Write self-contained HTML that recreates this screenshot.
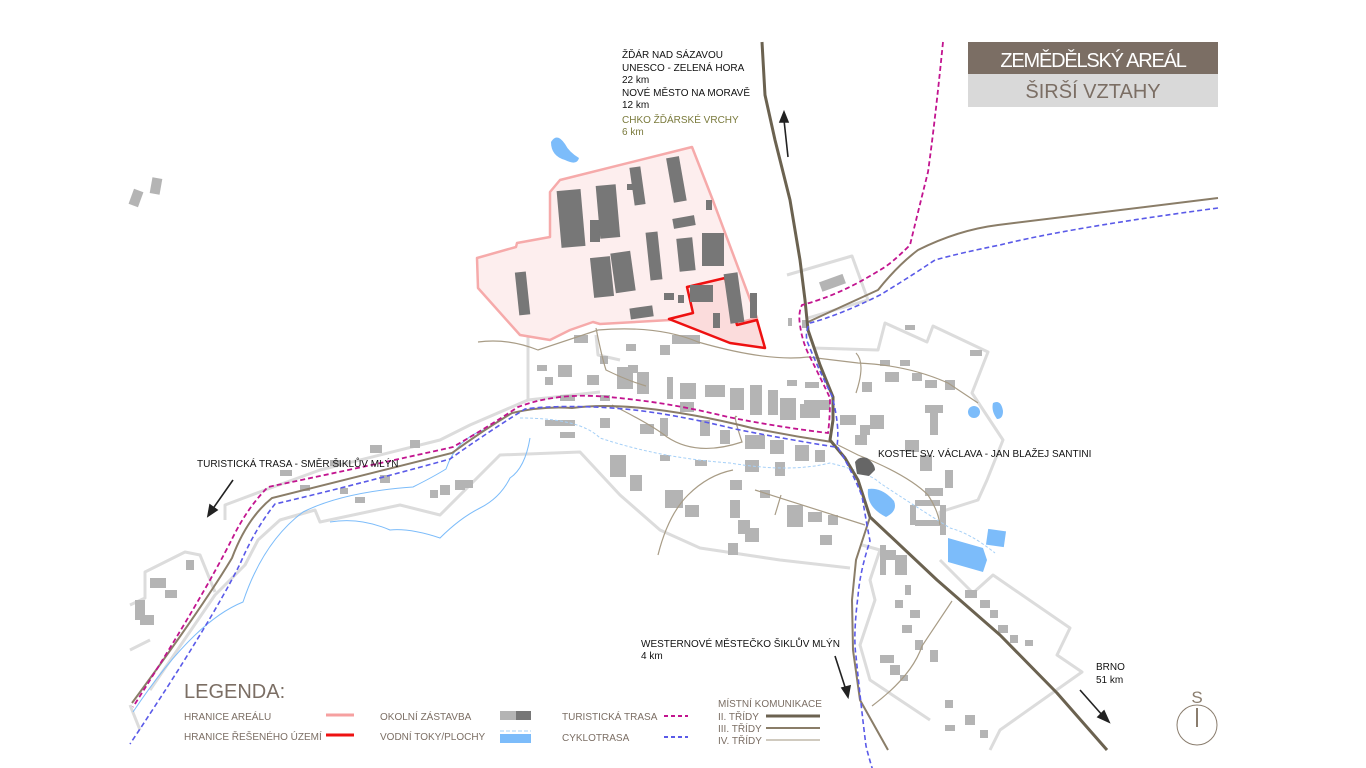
<!DOCTYPE html>
<html><head><meta charset="utf-8"><style>
html,body{margin:0;padding:0;background:#fff;}
svg{display:block}
text{font-family:"Liberation Sans",sans-serif;}
</style></head><body>
<svg width="1366" height="768" viewBox="0 0 1366 768" xmlns="http://www.w3.org/2000/svg">
<rect width="1366" height="768" fill="#fff"/>

<!-- village outlines -->
<g fill="none" stroke="#dcdcdc" stroke-width="3" stroke-linejoin="round">
<polyline points="150,690 215,595 245,565 258,540 280,520 315,510 320,522 400,505 440,515 500,455 580,452 620,495 660,530 700,548 780,560 850,568"/>
<polyline points="225,520 225,505 265,490 320,470 440,440 470,425 528,400 528,330"/>
<polyline points="130,605 145,598 145,572 185,552 200,555 215,592"/>
<polyline points="130,650 150,640"/>
<polyline points="130,705 140,730"/>
<polyline points="787,275 852,256 868,300 808,318"/>
<polyline points="813,348 878,350 885,323 927,342 933,326 988,352 972,393 1003,440 987,480 978,500 940,512 940,520"/>
<polyline points="940,560 973,593 993,575 1070,628 1057,655 1082,672 1000,730 990,750"/>
<polyline points="862,545 880,550 870,580 875,600 860,645 870,680 930,720"/>
<polyline points="596,335 598,355 620,360"/>
<polyline points="528,400 600,392"/>
</g>

<!-- buildings light -->
<g fill="#b4b4b4">
<rect x="131" y="190" width="10" height="16" transform="rotate(20 136 198)"/>
<rect x="151" y="178" width="10" height="16" transform="rotate(10 156 186)"/>
<rect x="574" y="335" width="14" height="8"/><rect x="672" y="335" width="28" height="9"/>
<rect x="626" y="344" width="10" height="7"/><rect x="660" y="345" width="10" height="10"/>
<rect x="600" y="356" width="8" height="8"/><rect x="628" y="365" width="10" height="8"/>
<rect x="537" y="365" width="10" height="6"/><rect x="545" y="377" width="8" height="8"/>
<rect x="558" y="365" width="14" height="12"/><rect x="587" y="375" width="12" height="10"/>
<rect x="617" y="367" width="16" height="22"/><rect x="637" y="372" width="12" height="22"/>
<rect x="667" y="377" width="6" height="22"/><rect x="680" y="383" width="16" height="16"/>
<rect x="705" y="385" width="20" height="12"/><rect x="730" y="388" width="14" height="22"/>
<rect x="750" y="385" width="12" height="30"/><rect x="768" y="390" width="10" height="25"/>
<rect x="780" y="398" width="16" height="22"/><rect x="800" y="404" width="20" height="14"/>
<rect x="787" y="380" width="10" height="6"/><rect x="805" y="382" width="14" height="6"/>
<rect x="804" y="400" width="26" height="10"/>
<rect x="545" y="420" width="30" height="6"/><rect x="560" y="432" width="15" height="6"/>
<rect x="680" y="402" width="14" height="10"/><rect x="600" y="418" width="10" height="10"/>
<rect x="640" y="424" width="14" height="10"/><rect x="660" y="418" width="8" height="18"/>
<rect x="700" y="420" width="10" height="16"/><rect x="720" y="430" width="10" height="14"/>
<rect x="745" y="435" width="20" height="14"/><rect x="770" y="440" width="14" height="14"/>
<rect x="795" y="445" width="14" height="16"/><rect x="815" y="450" width="10" height="12"/>
<rect x="745" y="460" width="14" height="12"/><rect x="775" y="462" width="10" height="14"/>
<rect x="610" y="455" width="16" height="22"/><rect x="630" y="475" width="12" height="16"/>
<rect x="660" y="455" width="10" height="6"/><rect x="695" y="460" width="12" height="6"/>
<rect x="665" y="490" width="18" height="18"/><rect x="685" y="505" width="14" height="12"/>
<rect x="730" y="480" width="12" height="10"/><rect x="760" y="490" width="10" height="8"/>
<rect x="787" y="505" width="16" height="22"/><rect x="808" y="512" width="14" height="10"/>
<rect x="730" y="500" width="10" height="18"/><rect x="738" y="520" width="12" height="14"/>
<rect x="828" y="515" width="10" height="10"/><rect x="820" y="535" width="12" height="10"/>
<rect x="728" y="543" width="10" height="12"/><rect x="745" y="528" width="14" height="14"/>
<rect x="880" y="360" width="10" height="6"/><rect x="900" y="360" width="10" height="6"/>
<rect x="862" y="382" width="10" height="10"/><rect x="885" y="372" width="14" height="10"/>
<rect x="905" y="325" width="10" height="5"/><rect x="970" y="350" width="12" height="6"/>
<rect x="912" y="373" width="10" height="8"/><rect x="925" y="380" width="12" height="8"/>
<rect x="945" y="380" width="10" height="10"/>
<rect x="930" y="405" width="8" height="30"/><rect x="925" y="405" width="18" height="8"/>
<rect x="840" y="415" width="16" height="10"/><rect x="860" y="425" width="10" height="10"/>
<rect x="870" y="415" width="14" height="14"/><rect x="855" y="435" width="12" height="10"/>
<rect x="905" y="440" width="14" height="12"/><rect x="920" y="455" width="12" height="16"/>
<rect x="945" y="470" width="8" height="18"/><rect x="925" y="488" width="18" height="8"/>
<rect x="915" y="500" width="25" height="6"/><rect x="910" y="505" width="6" height="20"/>
<rect x="915" y="520" width="28" height="6"/><rect x="940" y="505" width="6" height="30"/>
<rect x="880" y="550" width="16" height="10"/><rect x="880" y="545" width="6" height="30"/>
<rect x="895" y="555" width="12" height="20"/><rect x="905" y="585" width="6" height="10"/>
<rect x="965" y="590" width="12" height="8"/><rect x="980" y="600" width="10" height="8"/>
<rect x="990" y="610" width="8" height="8"/><rect x="998" y="625" width="10" height="8"/>
<rect x="1010" y="635" width="8" height="8"/><rect x="1025" y="640" width="8" height="6"/>
<rect x="895" y="600" width="8" height="8"/><rect x="910" y="610" width="10" height="8"/>
<rect x="902" y="625" width="10" height="8"/><rect x="915" y="640" width="8" height="10"/>
<rect x="880" y="655" width="14" height="8"/><rect x="890" y="665" width="10" height="10"/>
<rect x="900" y="675" width="8" height="6"/><rect x="930" y="650" width="8" height="12"/>
<rect x="945" y="700" width="8" height="8"/><rect x="965" y="715" width="10" height="10"/>
<rect x="980" y="730" width="8" height="8"/><rect x="945" y="725" width="10" height="6"/>
<rect x="410" y="440" width="10" height="8"/><rect x="370" y="445" width="12" height="8"/>
<rect x="330" y="460" width="10" height="6"/><rect x="280" y="470" width="12" height="6"/>
<rect x="440" y="485" width="10" height="10"/><rect x="430" y="490" width="8" height="8"/>
<rect x="455" y="480" width="10" height="10"/><rect x="465" y="480" width="8" height="8"/>
<rect x="380" y="475" width="10" height="8"/><rect x="340" y="488" width="8" height="6"/>
<rect x="355" y="497" width="10" height="6"/><rect x="300" y="485" width="10" height="6"/>
<rect x="150" y="578" width="16" height="10"/><rect x="165" y="590" width="12" height="8"/>
<rect x="135" y="600" width="10" height="20"/><rect x="140" y="615" width="14" height="10"/>
<rect x="186" y="560" width="8" height="10"/>
<rect x="560" y="395" width="15" height="6"/><rect x="600" y="395" width="10" height="6"/>
</g>

<!-- areál -->
<polygon points="477,258 516,247 517,243 550,237 550,192 560,180 692,147 712,198 757,318 738,323 705,318 670,320 600,324 593,322 570,330 550,340 520,335 478,288" fill="#fdeeee" stroke="#f6aaaa" stroke-width="2.5" stroke-linejoin="round"/>
<polygon points="687,287 725,278 737,325 757,320 765,348 730,343 669,319 693,313" fill="#fbdcdc" stroke="#ee1111" stroke-width="2.5" stroke-linejoin="round"/>
<g fill="#777">
<rect x="559" y="190" width="24" height="57" transform="rotate(-5 571 218)"/>
<rect x="590" y="220" width="10" height="22"/>
<rect x="598" y="185" width="20" height="53" transform="rotate(-5 608 212)"/>
<rect x="632" y="167" width="11" height="38" transform="rotate(-8 637 186)"/>
<rect x="627" y="184" width="6" height="6"/>
<rect x="670" y="157" width="13" height="45" transform="rotate(-10 676 180)"/>
<rect x="706" y="200" width="6" height="10"/>
<rect x="673" y="217" width="22" height="10" transform="rotate(-10 684 222)"/>
<rect x="592" y="257" width="20" height="40" transform="rotate(-6 602 277)"/>
<rect x="613" y="252" width="20" height="40" transform="rotate(-8 623 272)"/>
<rect x="648" y="232" width="12" height="48" transform="rotate(-6 654 256)"/>
<rect x="678" y="238" width="16" height="33" transform="rotate(-6 686 255)"/>
<rect x="702" y="233" width="22" height="33"/>
<rect x="517" y="272" width="11" height="43" transform="rotate(-6 522 293)"/>
<rect x="630" y="307" width="23" height="11" transform="rotate(-8 641 312)"/>
<rect x="664" y="293" width="10" height="7"/><rect x="678" y="295" width="6" height="8"/>
<rect x="690" y="285" width="23" height="17"/>
<rect x="713" y="313" width="7" height="15"/>
<rect x="727" y="273" width="14" height="50" transform="rotate(-8 734 298)"/>
<rect x="750" y="293" width="7" height="25"/>
</g>
<rect x="820" y="278" width="25" height="10" fill="#b4b4b4" transform="rotate(-20 832 283)"/>
<rect x="802" y="320" width="6" height="8" fill="#b4b4b4"/>
<rect x="788" y="318" width="4" height="8" fill="#b4b4b4"/>

<!-- water -->
<g fill="#7cbcfa">
<path d="M551,142 q6,-10 14,2 q4,8 14,14 q-2,8 -14,2 q-14,-4 -14,-18z"/>
<path d="M868,489 q14,-2 26,12 q4,10 -8,16 q-20,-10 -18,-28z"/>
<path d="M948,538 l35,10 l4,12 l-4,12 l-35,-10z"/>
<rect x="987" y="530" width="18" height="16" transform="rotate(8 996 538)"/>
<ellipse cx="974" cy="412" rx="6" ry="6"/>
<path d="M993,403 q8,-4 10,8 q0,8 -6,8 q-6,-8 -4,-16z"/>
</g>
<g fill="none" stroke="#7cbcfa" stroke-width="1">
<path d="M133,712 q60,-90 110,-110 q20,-60 60,-90 q40,-20 110,-25 q20,-10 33,-18 q10,-30 40,-40"/>
<path d="M330,522 q30,-5 60,8 q20,-2 50,8 q20,-20 40,-30 q20,-10 30,-30 q15,-10 20,-40"/>
</g>
<g fill="none" stroke="#a6d0f7" stroke-width="1" stroke-dasharray="3,2">
<path d="M520,418 q60,0 80,20 q60,20 130,25 q60,10 100,0 q40,10 50,20 q30,20 70,45 q20,5 45,25"/>
</g>

<!-- minor roads -->
<g fill="none" stroke="#a89c86" stroke-width="1.2">
<path d="M478,342 q30,-4 60,8 q30,-10 60,-20 q60,-5 100,12 q70,20 110,15 l50,6 q50,2 90,20 q15,10 30,20"/>
<path d="M596,328 q6,30 10,42 q20,10 40,16"/>
<path d="M612,405 q40,20 55,32 q30,20 75,5 q-10,-30 -5,-25"/>
<path d="M658,555 q10,-40 30,-60 q20,-20 45,-25"/>
<path d="M755,490 l110,35"/><path d="M775,515 l6,-20"/>
<path d="M838,445 l20,10 q50,20 70,40 q10,15 12,30"/>
<path d="M856,353 q10,10 0,40"/>
<path d="M872,706 q40,-30 50,-60 q20,-30 30,-45"/>
</g>

<!-- secondary roads (III) -->
<g fill="none" stroke="#8a7d68" stroke-width="2">
<path d="M808,322 l70,-32 q20,-25 40,-40 q40,-20 80,-25 l220,-27"/>
<path d="M832,442 q-40,-6 -80,-14 q-60,-15 -110,-20 q-40,-4 -70,0 q-30,-2 -60,5 q-30,18 -60,40 q-80,20 -180,45 q-25,20 -40,60 q-30,50 -100,145"/>
<polyline points="870,517 856,560 852,600 853,650 860,700 888,750"/>
</g>
<!-- main road II -->
<polyline points="762,42 765,95 775,140 790,200 800,260 805,300 808,330 820,365 833,397 833,420 830,440 845,458 858,480 870,517 937,580 1000,635 1057,693 1107,750" fill="none" stroke="#6b6250" stroke-width="3" stroke-linejoin="round"/>

<!-- tourist trail -->
<path d="M943,42 q-8,80 -15,130 q-10,40 -18,73 q-20,20 -30,25 q-40,25 -78,35 q-4,8 -2,20 q2,15 8,28 q15,30 22,45 q0,20 -2,35 q-50,-6 -100,-16 q-60,-15 -120,-20 q-50,-5 -90,10 q-30,20 -65,40 q-80,18 -185,40 q-20,20 -35,50 q-30,60 -100,170" fill="none" stroke="#c2148f" stroke-width="1.8" stroke-dasharray="5,3"/>
<!-- cycle -->
<path d="M1218,208 q-150,20 -218,37 q-40,8 -65,15 q-30,20 -55,35 q-40,20 -70,28 q-5,8 -3,18 q10,25 25,55 q8,30 5,50 q15,25 25,50 q5,30 8,45 q-10,30 -12,55 q-5,40 -2,60 q5,50 10,90 q10,40 22,60" fill="none" stroke="#5a5ae8" stroke-width="1.6" stroke-dasharray="5,3"/>
<path d="M835,447 q-50,-8 -100,-18 q-60,-15 -110,-20 q-60,-5 -100,0 q-40,25 -75,50 q-90,25 -175,45 q-20,25 -35,60 q-30,60 -110,180" fill="none" stroke="#5a5ae8" stroke-width="1.6" stroke-dasharray="5,3"/>

<!-- church -->
<path d="M855,462 q4,-6 12,-4 q8,6 8,12 l-6,6 l-12,-2z" fill="#666"/>

<!-- arrows -->
<g stroke="#222" stroke-width="1.6" fill="#222">
<line x1="788" y1="157" x2="784" y2="120"/><polygon points="784,112 780,122 788,122"/>
<line x1="233" y1="480" x2="212" y2="510"/><polygon points="208,516 210,505 217,510"/>
<line x1="835" y1="656" x2="846" y2="690"/><polygon points="848,697 842,688 850,686"/>
<line x1="1080" y1="690" x2="1103" y2="716"/><polygon points="1109,722 1098,717 1104,711"/>
</g>

<!-- labels -->
<g font-size="10" fill="#111">
<text x="622" y="58">ŽĎÁR NAD SÁZAVOU</text>
<text x="622" y="71">UNESCO - ZELENÁ HORA</text>
<text x="622" y="83">22 km</text>
<text x="622" y="96">NOVÉ MĚSTO NA MORAVĚ</text>
<text x="622" y="108">12 km</text>
<text x="622" y="123" fill="#7a7a3c">CHKO ŽĎÁRSKÉ VRCHY</text>
<text x="622" y="135" fill="#7a7a3c">6 km</text>
<text x="197" y="467">TURISTICKÁ TRASA - SMĚR ŠIKLŮV MLÝN</text>
<text x="878" y="457">KOSTEL SV. VÁCLAVA - JAN BLAŽEJ SANTINI</text>
<text x="641" y="647">WESTERNOVÉ MĚSTEČKO ŠIKLŮV MLÝN</text>
<text x="641" y="659">4 km</text>
<text x="1096" y="670">BRNO</text>
<text x="1096" y="683">51 km</text>
</g>

<!-- title -->
<rect x="968" y="42" width="250" height="32" fill="#7b6e64"/>
<rect x="968" y="74" width="250" height="33" fill="#d9d9d9"/>
<text x="1093" y="67" font-size="20" fill="#fff" text-anchor="middle" letter-spacing="-1.2">ZEMĚDĚLSKÝ AREÁL</text>
<text x="1093" y="98" font-size="20" fill="#7b6e64" text-anchor="middle">ŠIRŠÍ VZTAHY</text>

<!-- compass -->
<circle cx="1197" cy="725" r="20" fill="none" stroke="#8a7d6e" stroke-width="1"/>
<line x1="1197" y1="708" x2="1197" y2="727" stroke="#8a7d6e" stroke-width="2"/>
<text x="1197" y="703" font-size="17" fill="#8a7d6e" text-anchor="middle">S</text>

<!-- legend -->
<text x="184" y="698" font-size="20" fill="#7b6e64">LEGENDA:</text>
<g font-size="10" fill="#7b6e64">
<text x="184" y="720">HRANICE AREÁLU</text>
<text x="184" y="740">HRANICE ŘEŠENÉHO ÚZEMÍ</text>
<text x="380" y="720">OKOLNÍ ZÁSTAVBA</text>
<text x="380" y="740">VODNÍ TOKY/PLOCHY</text>
<text x="562" y="720">TURISTICKÁ TRASA</text>
<text x="562" y="741">CYKLOTRASA</text>
<text x="718" y="707">MÍSTNÍ KOMUNIKACE</text>
<text x="718" y="720">II.  TŘÍDY</text>
<text x="718" y="732">III.  TŘÍDY</text>
<text x="718" y="744">IV.  TŘÍDY</text>
</g>
<line x1="326" y1="715" x2="354" y2="715" stroke="#f6a0a0" stroke-width="3"/>
<line x1="326" y1="735" x2="354" y2="735" stroke="#ee1111" stroke-width="3"/>
<rect x="500" y="711" width="16" height="9" fill="#b4b4b4"/><rect x="516" y="711" width="15" height="9" fill="#777"/>
<line x1="500" y1="731" x2="531" y2="731" stroke="#a6d0f7" stroke-width="1" stroke-dasharray="4,2"/>
<rect x="500" y="734" width="31" height="9" fill="#7cbcfa"/>
<line x1="664" y1="716" x2="688" y2="716" stroke="#c2148f" stroke-width="2" stroke-dasharray="4,3"/>
<line x1="664" y1="737" x2="688" y2="737" stroke="#5a5ae8" stroke-width="2" stroke-dasharray="4,3"/>
<line x1="766" y1="716" x2="820" y2="716" stroke="#6b6250" stroke-width="3"/>
<line x1="766" y1="728" x2="820" y2="728" stroke="#8a7d68" stroke-width="2"/>
<line x1="766" y1="740" x2="820" y2="740" stroke="#c0b8aa" stroke-width="1.5"/>
</svg>
</body></html>
